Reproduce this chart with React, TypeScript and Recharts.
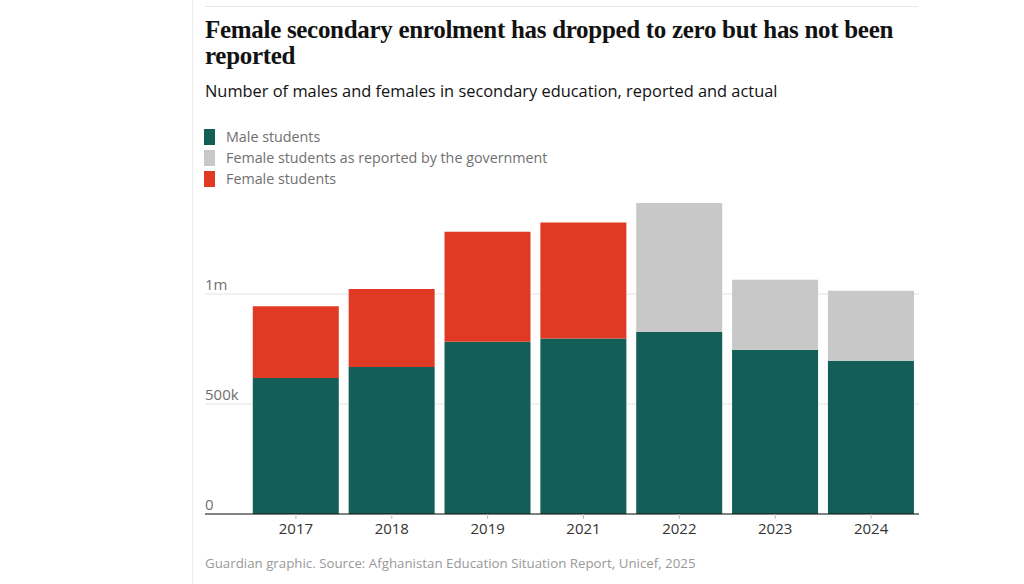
import React from "react";
import { BarChart, Bar, XAxis, YAxis, CartesianGrid } from "recharts";

const years = ["2017", "2018", "2019", "2021", "2022", "2023", "2024"];
const maleStudents = [618000, 668000, 783000, 798000, 827000, 747000, 697000];
const femaleReported = [null, null, null, null, 587000, 318000, 318000];
const femaleActual = [326000, 355000, 500000, 527000, null, null, null];
const yTicks = [0, 500000, 1000000];
const yTickLabels = ["0", "500k", "1m"];

const COLORS = {
  male: "#135e57",
  reported: "#c8c8c8",
  actual: "#e03a24",
};

const data = years.map((y, i) => ({
  year: y,
  male: maleStudents[i],
  reported: femaleReported[i],
  actual: femaleActual[i],
}));

const legendItems = [
  { key: "male", label: "Male students", color: COLORS.male },
  { key: "reported", label: "Female students as reported by the government", color: COLORS.reported },
  { key: "actual", label: "Female students", color: COLORS.actual },
];

const sans = "'Open Sans', 'Noto Sans', sans-serif";

const YTick = (props: any) => {
  const { x, y, payload } = props;
  const idx = yTicks.indexOf(payload.value);
  return (
    <text x={x} y={y - 4} fill="#707070" fontSize={15} fontFamily={sans} textAnchor="start">
      {yTickLabels[idx]}
    </text>
  );
};

export default function App() {
  return (
    <div style={{ position: "absolute", left: 0, top: 0, width: 1024, height: 584, background: "#fff", overflow: "hidden" }}>
      <div style={{ position: "absolute", left: 192, top: 0, width: 1, height: 584, background: "#ececec" }} />
      <div style={{ position: "absolute", left: 205, top: 6, width: 713, height: 1, background: "#e6e6e6" }} />
      <div
        style={{
          position: "absolute",
          left: 205,
          top: 17,
          width: 720,
          fontFamily: "'Liberation Serif', 'DejaVu Serif', serif",
          fontWeight: 700,
          fontSize: 25,
          lineHeight: "26px",
          color: "#121212",
          letterSpacing: "-0.3px",
        }}
      >
        Female secondary enrolment has dropped to zero but has not been reported
      </div>
      <div
        style={{
          position: "absolute",
          left: 205,
          top: 79,
          fontFamily: sans,
          fontSize: 16.4,
          color: "#121212",
          whiteSpace: "nowrap",
        }}
      >
        Number of males and females in secondary education, reported and actual
      </div>
      <div style={{ position: "absolute", left: 204, top: 126, fontFamily: sans }}>
        {legendItems.map((it) => (
          <div key={it.key} style={{ display: "flex", alignItems: "center", height: 21 }}>
            <div style={{ width: 11, height: 16, background: it.color, marginRight: 11 }} />
            <span style={{ fontSize: 14.3, color: "#707070" }}>{it.label}</span>
          </div>
        ))}
      </div>
      <div style={{ position: "absolute", left: 0, top: 0 }}>
        <BarChart
          width={1024}
          height={584}
          data={data}
          margin={{ top: 184, right: 105, bottom: 40, left: 204 }}
          barCategoryGap="5%"
        >
          <CartesianGrid horizontal vertical={false} stroke="#e3e3e3" horizontalValues={yTicks} />
          <YAxis
            domain={[0, 1500000]}
            ticks={yTicks}
            width={1}
            axisLine={false}
            tickLine={false}
            tickSize={0}
            tickMargin={0}
            tick={<YTick />}
            interval={0}
            allowDataOverflow
          />
          <XAxis
            dataKey="year"
            height={30}
            padding={{ left: 43, right: 0 }}
            axisLine={{ stroke: "#121212" }}
            tickLine={{ stroke: "#bbbbbb" }}
            tickSize={5}
            tick={{ fill: "#333", fontSize: 15, fontFamily: sans }}
            tickMargin={4}
            interval={0}
          />
          <Bar dataKey="male" stackId="a" fill={COLORS.male} isAnimationActive={false} />
          <Bar dataKey="reported" stackId="a" fill={COLORS.reported} isAnimationActive={false} />
          <Bar dataKey="actual" stackId="a" fill={COLORS.actual} isAnimationActive={false} />
        </BarChart>
      </div>
      <div
        style={{
          position: "absolute",
          left: 205,
          top: 554,
          fontFamily: sans,
          fontSize: 13.3,
          color: "#999",
          whiteSpace: "nowrap",
        }}
      >
        Guardian graphic. Source: Afghanistan Education Situation Report, Unicef, 2025
      </div>
    </div>
  );
}
